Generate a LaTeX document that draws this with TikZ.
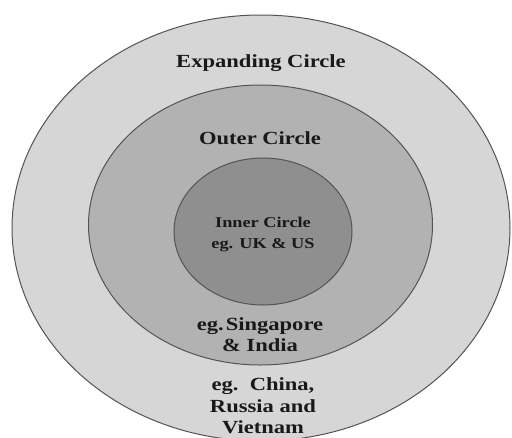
\documentclass[tikz,border=0pt]{standalone}
\usepackage{fontspec}
\setmainfont[FakeStretch=1.22]{Liberation Serif}
\definecolor{outerfill}{gray}{0.84}
\definecolor{midfill}{gray}{0.70}
\definecolor{innerfill}{gray}{0.56}
\definecolor{edge}{gray}{0.33}
\tikzset{
  ring/.style={draw=edge, line width=1pt},
  lbl/.style={anchor=base, inner sep=0pt, font=\bfseries\fontsize{18.5}{21}\selectfont, text=black!90},
  smalllbl/.style={anchor=base, inner sep=0pt, font=\bfseries\fontsize{15}{18}\selectfont, text=black!90}
}
\begin{document}
\begin{tikzpicture}[x=1pt,y=-1pt]
\useasboundingbox (0,0) rectangle (512,437);
\fill[white] (0,0) rectangle (512,437);
\draw[ring, fill=outerfill] (261,228) ellipse [x radius=249, y radius=213];
\draw[ring, fill=midfill] (260.5,225) ellipse [x radius=172, y radius=140];
\draw[ring, fill=innerfill] (263,231.5) ellipse [x radius=89, y radius=73.5];
\node[lbl] (expanding) at (261,67) {Expanding Circle};
\node[lbl] (outer) at (260,144) {Outer Circle};
\node[smalllbl] (inner1) at (263,227) {Inner Circle};
\node[smalllbl] (inner2) at (263,248) {eg. UK \& US};
\node[lbl] (outerex1) at (260,330) {eg.\kern2pt Singapore};
\node[lbl] (outerex2) at (260,351) {\& India};
\node[lbl] (expex1) at (263,390) {eg.\ \ China,};
\node[lbl] (expex2) at (263,412) {Russia and};
\node[lbl] (expex3) at (263,433) {Vietnam};
\end{tikzpicture}
\end{document}
